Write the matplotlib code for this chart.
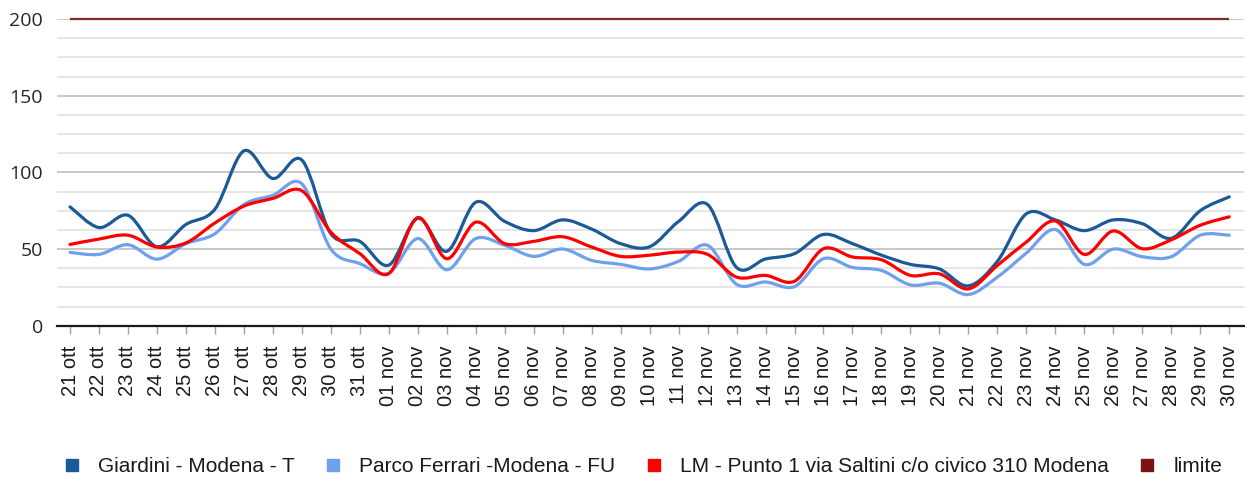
import matplotlib
matplotlib.use("Agg")
import matplotlib.pyplot as plt
from matplotlib.path import Path
from matplotlib.patches import PathPatch
from matplotlib.lines import Line2D
import numpy as np

dates = ["21 ott", "22 ott", "23 ott", "24 ott", "25 ott", "26 ott", "27 ott", "28 ott",
         "29 ott", "30 ott", "31 ott", "01 nov", "02 nov", "03 nov", "04 nov", "05 nov",
         "06 nov", "07 nov", "08 nov", "09 nov", "10 nov", "11 nov", "12 nov", "13 nov",
         "14 nov", "15 nov", "16 nov", "17 nov", "18 nov", "19 nov", "20 nov", "21 nov",
         "22 nov", "23 nov", "24 nov", "25 nov", "26 nov", "27 nov", "28 nov", "29 nov",
         "30 nov"]

giardini = [77.5, 64, 72, 51.5, 66, 76, 114, 96, 108, 60, 55, 39.5, 70, 48.5, 80.5, 68,
            62, 69, 63, 53.5, 51.5, 68, 79, 38, 43.5, 47, 59.5, 53.5, 46, 40, 37, 26, 42,
            73, 69, 62, 69, 66.5, 57, 75, 84]
parco = [47.8, 46.5, 52.8, 43.4, 53.5, 60, 79, 85, 92.5, 50, 40.5, 34.3, 56.8, 36.5, 56.8,
         52.4, 45.2, 50, 42.6, 40, 37, 42, 52.4, 27, 28.5, 25.5, 43.7, 38, 36, 26.6, 27.7,
         20.3, 31.7, 47.4, 62.7, 40, 50, 45, 45, 59, 59]
lm = [53, 56.5, 59, 51.3, 54, 67, 78, 83, 88, 61, 47, 34, 70.5, 43.7, 67.5, 53.5, 55, 58,
      51.3, 45.2, 46, 48, 46.5, 31.7, 32.8, 29, 50.2, 44.8, 43, 32.8, 33.8, 24, 39.3, 54.6,
      68.3, 46.5, 61.8, 50.2, 56, 65.5, 71]
limite = 200

labels = ["Giardini - Modena - T", "Parco Ferrari -Modena - FU",
          "LM - Punto 1 via Saltini c/o civico 310 Modena", "limite"]
colors = ["#1B5A96", "#6FA0EC", "#FF0000", "#7A1414"]

W, H = 1245, 483
fig = plt.figure(figsize=(W / 100, H / 100), dpi=100)
x0, x1, ytop, ybot = 57, 1244, 19, 325.7
ax = fig.add_axes([x0 / W, (H - ybot) / H, (x1 - x0) / W, (ybot - ytop) / H])


def smooth_path(xs, ys):
    pts = np.column_stack([xs, ys]).astype(float)
    n = len(pts)
    verts = [pts[0]]
    codes = [Path.MOVETO]
    for i in range(n - 1):
        p0 = pts[i - 1] if i > 0 else pts[i]
        p1 = pts[i]
        p2 = pts[i + 1]
        p3 = pts[i + 2] if i + 2 < n else pts[i + 1]
        c1 = p1 + (p2 - p0) / 6.0
        c2 = p2 - (p3 - p1) / 6.0
        verts += [c1, c2, p2]
        codes += [Path.CURVE4] * 3
    return Path(verts, codes)


xs = np.arange(len(dates))
for series, col in zip([giardini, parco, lm], colors[:3]):
    patch = PathPatch(smooth_path(xs, series), facecolor="none", edgecolor=col,
                      lw=2.3, capstyle="round", joinstyle="round", zorder=3)
    ax.add_patch(patch)
ax.hlines(limite, xs[0], xs[-1], colors="#822B2B", lw=1.6, zorder=3, clip_on=False)

ax.set_xlim(-0.449, 40.51)
ax.set_ylim(0, 200)

# gridlines
for v in np.arange(12.5, 200.1, 12.5):
    major = (v % 50 == 0)
    ax.axhline(v, color="#C4C4C4" if major else "#E3E3E3", lw=1.3, zorder=1)

for s in ["top", "right", "left"]:
    ax.spines[s].set_visible(False)
ax.spines["bottom"].set_color("#1a1a1a")
ax.spines["bottom"].set_linewidth(1.6)
ax.spines["bottom"].set_zorder(4)

ax.set_yticks([0, 50, 100, 150, 200])
ax.set_yticklabels(["0", "50", "100", "150", "200"], fontsize=14,
                   family="Open Sans", color="#262626")
ax.tick_params(axis="y", length=0, pad=10)

ax.set_xticks(xs)
ax.set_xticklabels(dates, rotation=90, fontsize=14.5, family="Liberation Sans",
                   color="#1a1a1a")
ax.tick_params(axis="x", length=6, width=1, color="#A0A0A0", pad=8)

handles = [Line2D([], [], ls="none", marker="s", markersize=9, markerfacecolor=c,
                  markeredgecolor=c) for c in colors]
fig.legend(handles, labels, loc="center", bbox_to_anchor=(643 / W, (H - 467) / H),
           ncol=4, frameon=False, prop={"family": "Liberation Sans", "size": 15},
           handlelength=0.8, handletextpad=0.85, columnspacing=1.45,
           labelcolor="#1a1a1a")

fig.savefig("out.png", dpi=100, facecolor="white")
